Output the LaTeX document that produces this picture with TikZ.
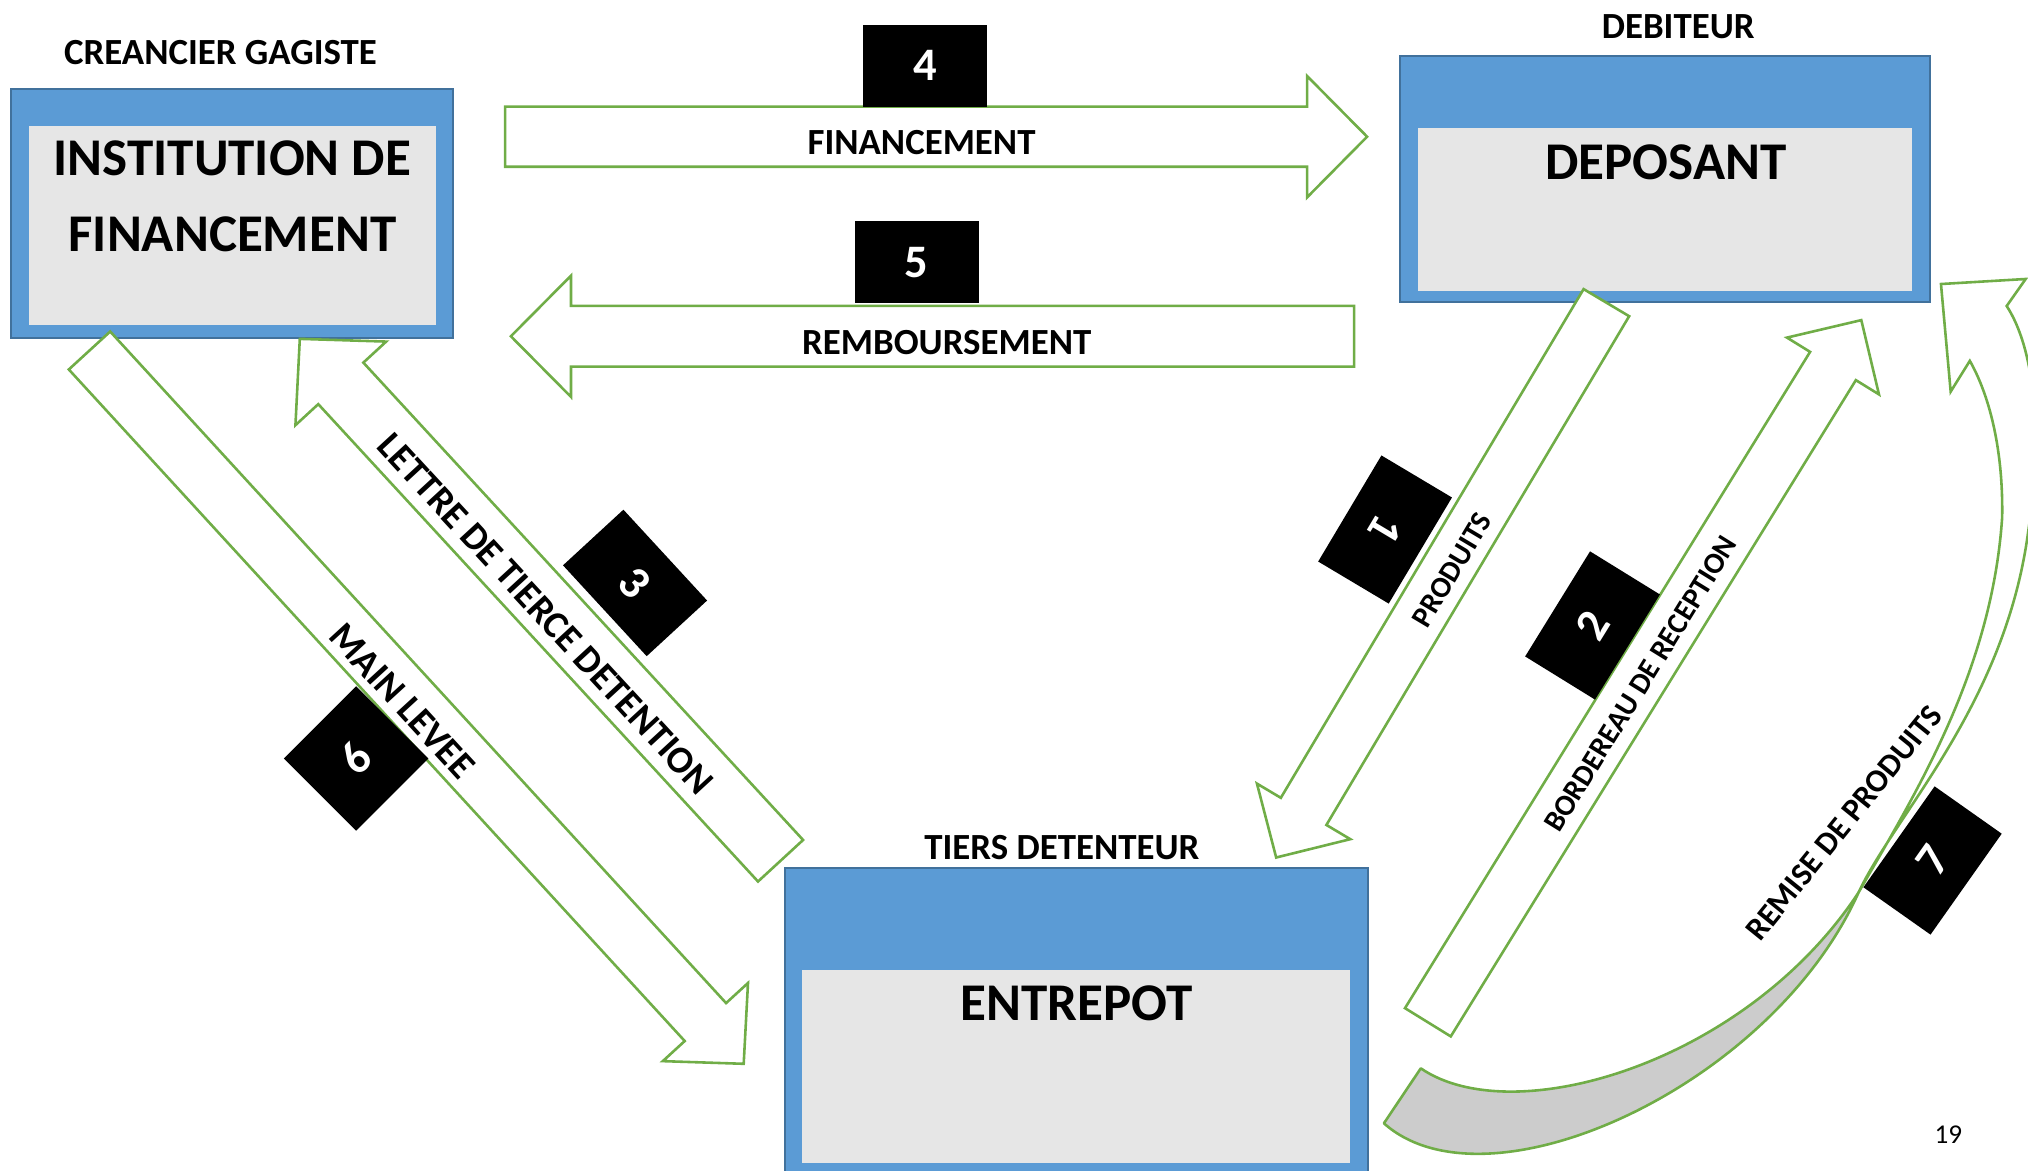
\documentclass[tikz,border=0pt]{standalone}
\usepackage{fontspec}
\setmainfont{Carlito}
\usetikzlibrary{calc}
\definecolor{boxblue}{HTML}{5B9BD5}
\definecolor{boxedge}{HTML}{41719C}
\definecolor{innergrey}{HTML}{E6E6E6}
\definecolor{arrgreen}{HTML}{70AD47}
\definecolor{backgrey}{HTML}{CCCCCC}
\tikzset{
  outerbox/.style={draw=boxedge, line width=1.5pt, fill=boxblue, inner sep=0pt},
  innerbox/.style={fill=innergrey, inner sep=0pt},
  bigtext/.style={font=\fontsize{41}{49}\selectfont\bfseries, inner sep=0pt},
  toplabel/.style={font=\fontsize{28.5}{28.5}\selectfont\bfseries, inner sep=0pt},
  hlabel/.style={font=\fontsize{28.5}{28.5}\selectfont\bfseries, inner sep=0pt},
  dlabel/.style={font=\fontsize{23}{23}\selectfont\bfseries, inner sep=0pt},
  dlabelbig/.style={font=\fontsize{29.5}{29.5}\selectfont\bfseries, inner sep=0pt},
  arrowline/.style={draw=arrgreen, line width=2pt, fill=white, line join=miter},
  backface/.style={draw=arrgreen, line width=2pt, fill=backgrey, line join=round},
  numbox/.style={fill=black, text=white, font=\fontsize{36}{36}\selectfont\bfseries,
    inner sep=0pt, minimum width=95.5pt, minimum height=63.5pt},
  pagenum/.style={font=\fontsize{21}{21}\selectfont, inner sep=0pt}
}
% #1 tail, #2 tip, #3 half body width, #4 half head width, #5 head length
\newcommand{\blockarrow}[5]{%
  \coordinate (ah) at ($(#2)!#5!(#1)$);
  \filldraw[arrowline] ($(#1)!#3!90:(#2)$) -- ($(ah)!#3!-90:(#1)$) -- ($(ah)!#4!-90:(#1)$)
    -- (#2) -- ($(ah)!#4!90:(#1)$) -- ($(ah)!#3!90:(#1)$) -- ($(#1)!#3!-90:(#2)$) -- cycle;
}
\begin{document}
\begin{tikzpicture}[x=1pt,y=-1pt]
\path[use as bounding box] (0,0) rectangle (1568,905);
\clip (0,0) rectangle (1568,905);

% ---------- boxes ----------
\node[outerbox, minimum width=341.4pt, minimum height=192pt] (instout) at (179.3,165) {};
\node[innerbox, minimum width=314.6pt, minimum height=153.9pt] (instin) at (179.7,174.35) {};
\node[bigtext, anchor=base] (inst1) at (179.7,136) {INSTITUTION DE};
\node[bigtext, anchor=base] (inst2) at (179.7,194.6) {FINANCEMENT};
\node[toplabel] (creancier) at (170.5,40.5) {CREANCIER GAGISTE};

\node[outerbox, minimum width=409.7pt, minimum height=190.7pt] (depout) at (1287.15,138.35) {};
\node[innerbox, minimum width=381.6pt, minimum height=126.3pt] (depin) at (1287.2,161.85) {};
\node[bigtext, anchor=base] (dep) at (1288,138.4) {DEPOSANT};
\node[toplabel] (debiteur) at (1297.5,20.6) {DEBITEUR};

\node[outerbox, minimum width=450.4pt, minimum height=244.2pt] (entout) at (832.2,792.9) {};
\node[innerbox, minimum width=423.6pt, minimum height=149pt] (entin) at (831.8,824.5) {};
\node[bigtext, anchor=base] (ent) at (832.5,789.4) {ENTREPOT};
\node[toplabel] (tiers) at (821,655.4) {TIERS DETENTEUR};

% ---------- straight block arrows ----------
\coordinate (a4s) at (390.5,105.7);  \coordinate (a4e) at (1057,105.7);
\blockarrow{a4s}{a4e}{23.2pt}{46.9pt}{46.4pt}
\coordinate (a5s) at (1047,260);  \coordinate (a5e) at (395,260);
\blockarrow{a5s}{a5e}{23.45pt}{46.9pt}{46.5pt}
\coordinate (a1s) at (1242,234);  \coordinate (a1e) at (986.7,663);
\blockarrow{a1s}{a1e}{20.5pt}{42pt}{41.5pt}
\coordinate (a2s) at (1104,790.4);  \coordinate (a2e) at (1439.1,247.5);
\blockarrow{a2s}{a2e}{20.8pt}{41.8pt}{41.7pt}
\coordinate (a3s) at (603.5,665.5);  \coordinate (a3e) at (231.8,262);
\blockarrow{a3s}{a3e}{23.7pt}{47.7pt}{46.8pt}
\coordinate (a6s) at (69.2,271);  \coordinate (a6e) at (575,822.5);
\blockarrow{a6s}{a6e}{21.7pt}{44.7pt}{43.8pt}

% ---------- curved arrow (7) ----------
\coordinate (cm) at (1437,690);
\coordinate (cn) at (1523,279);
\coordinate (cr) at (1551.5,236.6);
\coordinate (ct1) at (1098.5,826);
\coordinate (ct2) at (1070,868.5);
\filldraw[arrowline] (cm) .. controls (1480,615) and (1540,520) .. (1548,400)
  .. controls (1549,340) and (1535,300) .. (cn)
  -- (1508.2,302.8) -- (1500.7,219.6) -- (1566.2,215.7) -- (cr)
  .. controls (1572,268) and (1580,330) .. (1568,412)
  .. controls (1550,545) and (1465,630) .. (cm) -- cycle;
\filldraw[backface] (ct1) .. controls (1170,875) and (1350,822) .. (cm)
  .. controls (1370,840) and (1150,940) .. (ct2) -- cycle;

% ---------- arrow labels ----------
\node[hlabel] (lfin) at (712.5,110.3) {FINANCEMENT};
\node[hlabel] (lremb) at (732,265) {REMBOURSEMENT};
\node[dlabel, rotate=59.2] (lprod) at (1122.6,440.7) {PRODUITS};
\node[dlabel, rotate=58.3] (lbord) at (1268.4,528.7) {BORDEREAU DE RECEPTION};
\node[dlabelbig, rotate=-47.35] (llettre) at (422,474.6) {LETTRE DE TIERCE DETENTION};
\node[dlabelbig, rotate=-47.5] (lmain) at (311,542) {MAIN LEVEE};
\node[font=\fontsize{25}{25}\selectfont\bfseries, inner sep=0pt, rotate=51] (lremise) at (1425.7,636.2) {REMISE DE PRODUITS};

% ---------- number boxes ----------
\node[numbox] (n4) at (715.3,50.7) {4};
\node[numbox] (n5) at (708.8,202.7) {5};
\node[numbox, rotate=-120.8] (n1) at (1070.9,409.4) {1};
\node[numbox, rotate=58.3] (n2) at (1231.3,483.6) {2};
\node[numbox, rotate=-47.35] (n3) at (491,450.7) {3};
\node[numbox, minimum width=79pt, minimum height=79pt, rotate=45] (n6) at (275.3,586.4) {6};
\node[numbox, rotate=54.8] (n7) at (1494.2,665.3) {7};

\node[pagenum] (page) at (1506.5,877.5) {19};
\end{tikzpicture}
\end{document}
